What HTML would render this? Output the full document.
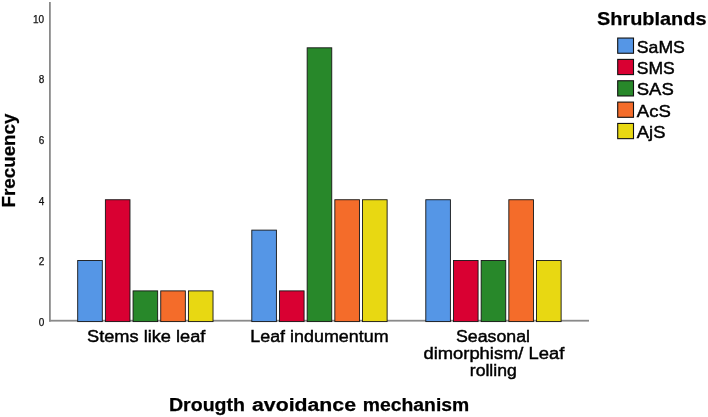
<!DOCTYPE html>
<html><head><meta charset="utf-8"><title>Chart</title>
<style>
html,body{margin:0;padding:0;background:#fff;}
svg{display:block;font-family:"Liberation Sans",sans-serif;fill:#000;}
text{filter:grayscale(1);stroke:#000;stroke-width:0.45px;}
text.b{stroke-width:0.25px;}
text.t{stroke-width:0.25px;fill:#1a1a1a;}
</style></head><body>
<svg width="708" height="417" viewBox="0 0 708 417">
<rect x="0" y="0" width="708" height="417" fill="#ffffff"/>
<rect x="49" y="2" width="1.8" height="319.6" fill="#8a8a8a"/>
<rect x="49" y="319.8" width="540" height="1.8" fill="#8a8a8a"/>
<rect x="77.70" y="260.51" width="24.60" height="61.09" fill="#5596e6" stroke="#151515" stroke-width="0.9"/>
<rect x="105.38" y="199.74" width="24.60" height="121.86" fill="#d90032" stroke="#151515" stroke-width="0.9"/>
<rect x="133.06" y="290.89" width="24.60" height="30.71" fill="#28882a" stroke="#151515" stroke-width="0.9"/>
<rect x="160.74" y="290.89" width="24.60" height="30.71" fill="#f46c2a" stroke="#151515" stroke-width="0.9"/>
<rect x="188.42" y="290.89" width="24.60" height="30.71" fill="#e8d812" stroke="#151515" stroke-width="0.9"/>
<rect x="251.80" y="230.12" width="24.60" height="91.48" fill="#5596e6" stroke="#151515" stroke-width="0.9"/>
<rect x="279.48" y="290.89" width="24.60" height="30.71" fill="#d90032" stroke="#151515" stroke-width="0.9"/>
<rect x="307.16" y="47.81" width="24.60" height="273.79" fill="#28882a" stroke="#151515" stroke-width="0.9"/>
<rect x="334.84" y="199.74" width="24.60" height="121.86" fill="#f46c2a" stroke="#151515" stroke-width="0.9"/>
<rect x="362.52" y="199.74" width="24.60" height="121.86" fill="#e8d812" stroke="#151515" stroke-width="0.9"/>
<rect x="425.80" y="199.74" width="24.60" height="121.86" fill="#5596e6" stroke="#151515" stroke-width="0.9"/>
<rect x="453.48" y="260.51" width="24.60" height="61.09" fill="#d90032" stroke="#151515" stroke-width="0.9"/>
<rect x="481.16" y="260.51" width="24.60" height="61.09" fill="#28882a" stroke="#151515" stroke-width="0.9"/>
<rect x="508.84" y="199.74" width="24.60" height="121.86" fill="#f46c2a" stroke="#151515" stroke-width="0.9"/>
<rect x="536.52" y="260.51" width="24.60" height="61.09" fill="#e8d812" stroke="#151515" stroke-width="0.9"/>
<text x="44.2" y="325.75" font-size="10" class="t" text-anchor="end">0</text>
<text x="44.2" y="265.17" font-size="10" class="t" text-anchor="end">2</text>
<text x="44.2" y="204.59" font-size="10" class="t" text-anchor="end">4</text>
<text x="44.2" y="144.01" font-size="10" class="t" text-anchor="end">6</text>
<text x="44.2" y="83.43" font-size="10" class="t" text-anchor="end">8</text>
<text x="44.2" y="22.85" font-size="10" class="t" text-anchor="end">10</text>
<text x="146.2" y="341.9" font-size="17.3" text-anchor="middle" textLength="118.4" lengthAdjust="spacingAndGlyphs">Stems like leaf</text>
<text x="319.4" y="341.9" font-size="17.3" text-anchor="middle" textLength="138.3" lengthAdjust="spacingAndGlyphs">Leaf indumentum</text>
<text x="493" y="341.5" font-size="17.3" text-anchor="middle" textLength="74" lengthAdjust="spacingAndGlyphs">Seasonal</text>
<text x="493.9" y="359.0" font-size="17.3" text-anchor="middle" textLength="140.8" lengthAdjust="spacingAndGlyphs">dimorphism/ Leaf</text>
<text x="493.3" y="376.3" font-size="17.3" text-anchor="middle" textLength="47" lengthAdjust="spacingAndGlyphs">rolling</text>
<text y="411.1" font-size="18.8" font-weight="bold" class="b"><tspan x="169.0" textLength="76.0" lengthAdjust="spacingAndGlyphs">Drougth</tspan> <tspan x="252.0" textLength="104.0" lengthAdjust="spacingAndGlyphs">avoidance</tspan> <tspan x="362.8" textLength="106.4" lengthAdjust="spacingAndGlyphs">mechanism</tspan></text>
<text transform="translate(15.0,160.5) rotate(-90)" font-size="18.5" font-weight="bold" class="b" text-anchor="middle" textLength="94" lengthAdjust="spacingAndGlyphs">Frecuency</text>
<text x="597" y="24.9" font-size="18.5" font-weight="bold" class="b" textLength="109.5" lengthAdjust="spacingAndGlyphs">Shrublands</text>
<rect x="617.7" y="38.05" width="15.8" height="15.2" fill="#5596e6" stroke="#111" stroke-width="1.1"/>
<text x="636.8" y="52.50" font-size="17" textLength="48.1" lengthAdjust="spacingAndGlyphs">SaMS</text>
<rect x="617.7" y="59.40" width="15.8" height="15.2" fill="#d90032" stroke="#111" stroke-width="1.1"/>
<text x="636.8" y="73.85" font-size="17" textLength="38.0" lengthAdjust="spacingAndGlyphs">SMS</text>
<rect x="617.7" y="80.75" width="15.8" height="15.2" fill="#28882a" stroke="#111" stroke-width="1.1"/>
<text x="636.8" y="95.20" font-size="17" textLength="37.0" lengthAdjust="spacingAndGlyphs">SAS</text>
<rect x="617.7" y="102.10" width="15.8" height="15.2" fill="#f46c2a" stroke="#111" stroke-width="1.1"/>
<text x="636.8" y="116.55" font-size="17" textLength="34.0" lengthAdjust="spacingAndGlyphs">AcS</text>
<rect x="617.7" y="123.45" width="15.8" height="15.2" fill="#e8d812" stroke="#111" stroke-width="1.1"/>
<text x="636.8" y="137.90" font-size="17" textLength="28.6" lengthAdjust="spacingAndGlyphs">AjS</text>
</svg>
</body></html>
